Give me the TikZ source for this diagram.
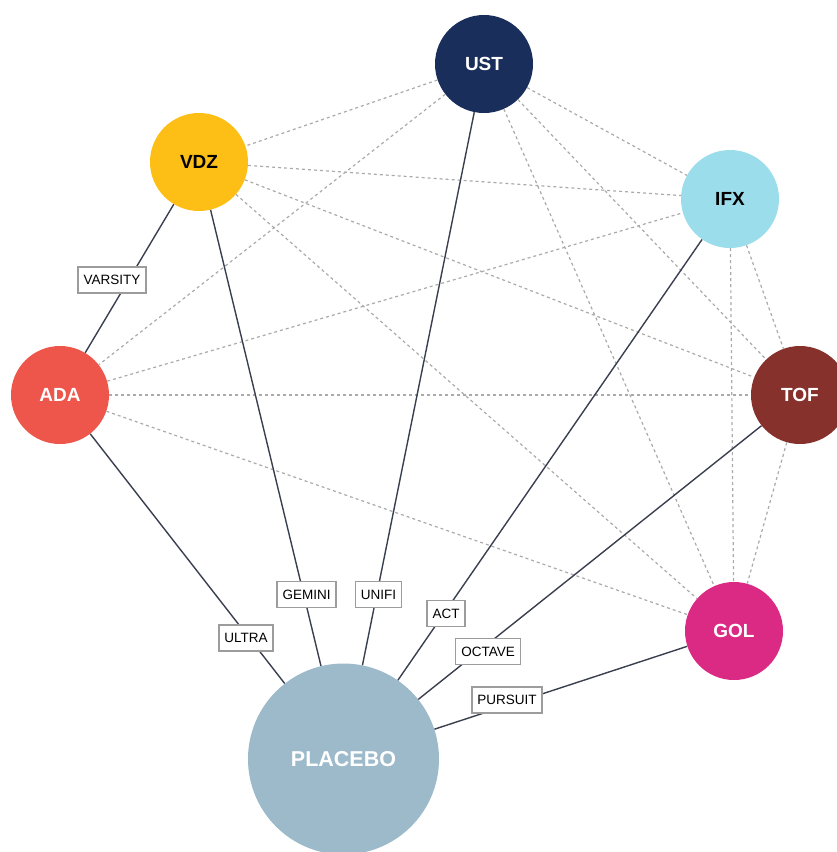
\documentclass[tikz,border=0pt]{standalone}
\usepackage{fontspec}
\setmainfont{Liberation Sans}
\begin{document}
\definecolor{cUST}{HTML}{1A2E5C}
\definecolor{cVDZ}{HTML}{FDBF16}
\definecolor{cIFX}{HTML}{9CDDEC}
\definecolor{cADA}{HTML}{EE564B}
\definecolor{cTOF}{HTML}{86312B}
\definecolor{cGOL}{HTML}{DB2A84}
\definecolor{cPLA}{HTML}{9DBACA}
\definecolor{solidedge}{HTML}{3A3F4F}
\definecolor{dashedge}{HTML}{AAAAAA}
\definecolor{lblborder}{HTML}{9C9C9C}
\begin{tikzpicture}[x=1pt,y=-1pt,
  drug/.style={circle,inner sep=0pt,minimum size=98pt,
    font=\fontsize{19}{19}\selectfont\bfseries},
  bigdrug/.style={circle,inner sep=0pt,minimum size=191pt,
    font=\fontsize{21.5}{21.5}\selectfont\bfseries},
  trial/.style={line width=1.4pt,draw=solidedge},
  indirect/.style={line width=1.2pt,draw=dashedge,dash pattern=on 3pt off 3pt},
  lbl/.style={draw=lblborder,line width=1.4pt,fill=white,inner xsep=5.5pt,
    minimum height=26pt,font=\fontsize{13.5}{13.5}\selectfont}]
\clip (0,0) rectangle (837,852);
% treatments
\node[drug,fill=cUST,text=white] (UST) at (484,64) {UST};
\node[drug,fill=cVDZ,text=black] (VDZ) at (199,162) {VDZ};
\node[drug,fill=cIFX,text=black] (IFX) at (730,199) {IFX};
\node[drug,fill=cADA,text=white] (ADA) at (60,395) {ADA};
\node[drug,fill=cTOF,text=white] (TOF) at (800,395) {TOF};
\node[drug,fill=cGOL,text=white] (GOL) at (734,631) {GOL};
\node[bigdrug,fill=cPLA,text=white] (PLA) at (343.5,759) {PLACEBO};
% indirect comparisons
\draw[indirect] (UST) -- (VDZ);
\draw[indirect] (UST) -- (ADA);
\draw[indirect] (UST) -- (IFX);
\draw[indirect] (UST) -- (TOF);
\draw[indirect] (UST) -- (GOL);
\draw[indirect] (VDZ) -- (IFX);
\draw[indirect] (VDZ) -- (TOF);
\draw[indirect] (VDZ) -- (GOL);
\draw[indirect] (ADA) -- (IFX);
\draw[indirect] (ADA) -- (TOF);
\draw[indirect] (ADA) -- (GOL);
\draw[indirect] (IFX) -- (TOF);
\draw[indirect] (IFX) -- (GOL);
\draw[indirect] (TOF) -- (GOL);
% head-to-head trials
\draw[trial] (ADA) -- (VDZ);
\draw[trial] (ADA) -- (PLA);
\draw[trial] (VDZ) -- (PLA);
\draw[trial] (UST) -- (PLA);
\draw[trial] (IFX) -- (PLA);
\draw[trial] (TOF) -- (PLA);
\draw[trial] (GOL) -- (PLA);
% trial names
\node[lbl] (varsity) at (112,280) {VARSITY};
\node[lbl] (ultra) at (246,638) {ULTRA};
\node[lbl] (gemini) at (306.5,594.5) {GEMINI};
\node[lbl] (unifi) at (378.5,594.5) {UNIFI};
\node[lbl] (act) at (446,613.5) {ACT};
\node[lbl] (octave) at (488,651.5) {OCTAVE};
\node[lbl] (pursuit) at (507,700) {PURSUIT};
\end{tikzpicture}
\end{document}
